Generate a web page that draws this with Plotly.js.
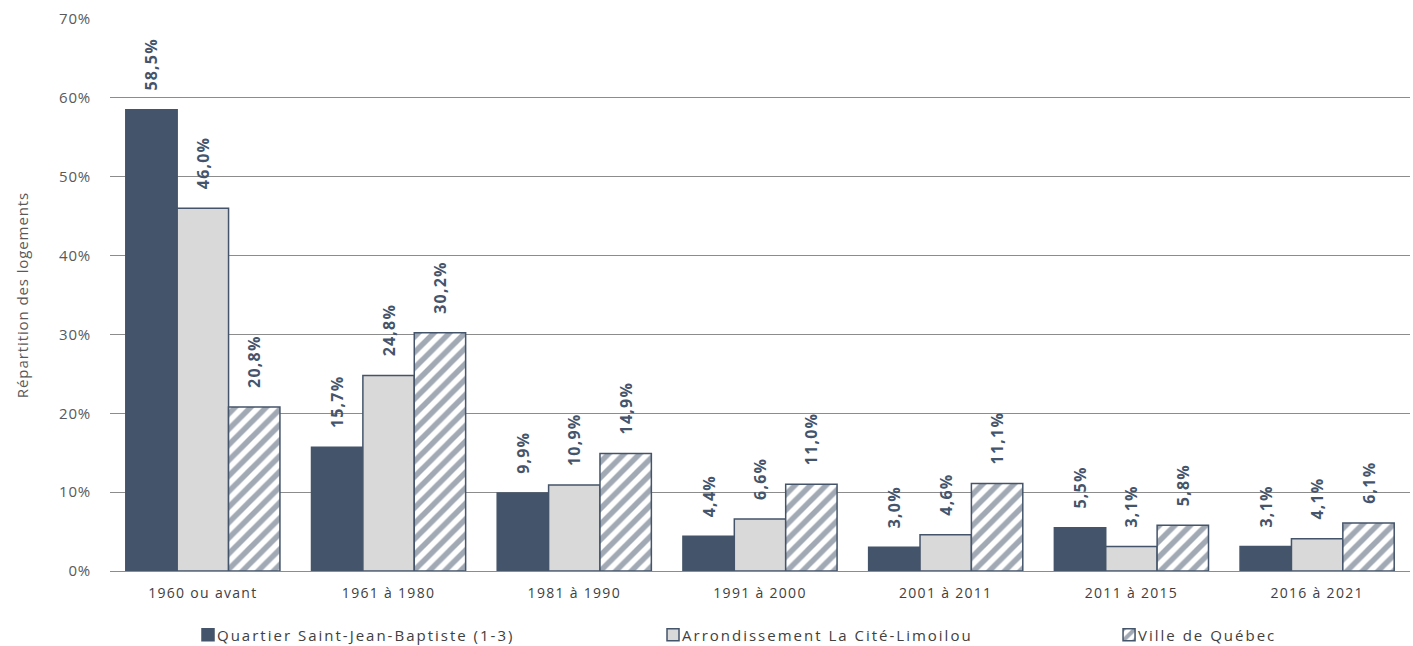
<!DOCTYPE html>
<html><head><meta charset="utf-8">
<script src="https://cdn.plot.ly/plotly-3.0.1.min.js"></script>
<style>
body{margin:0;background:#fff}#c{width:1413px;height:646px}
.xtick text{letter-spacing:1.3px}
text.bartext{letter-spacing:1.2px}
.ytitle{letter-spacing:0.9px}
.ytick text{letter-spacing:0.8px}
.infolayer g[class^="legend"] text{letter-spacing:2px; transform:translateX(-11px)}
.infolayer g[class^="legend"] g, .infolayer g[class^="legend"]{clip-path:none !important}
</style>
</head><body><div id="c"></div>
<script>
const categories = ["1960 ou avant","1961 à 1980","1981 à 1990","1991 à 2000","2001 à 2011","2011 à 2015","2016 à 2021"];
const quartier = [58.5,15.7,9.9,4.4,3.0,5.5,3.1];
const arrondissement = [46.0,24.8,10.9,6.6,4.6,3.1,4.1];
const ville = [20.8,30.2,14.9,11.0,11.1,5.8,6.1];
const seriesNames = ["Quartier Saint-Jean-Baptiste (1-3)","Arrondissement La Cité-Limoilou","Ville de Québec"];
const yTicks = [0,10,20,30,40,50,60,70];
const fmt = v => '\u00a0\u00a0\u00a0' + v.toFixed(1).replace('.', ',') + '%';
const dark = '#44546a';
const common = {type:'bar', x:categories, textposition:'outside', textangle:-90, cliponaxis:false, constraintext:'none',
  textfont:{family:'Open Sans, sans-serif', size:16, color:dark, weight:'bold'}, hoverinfo:'skip'};
const traces = [
  Object.assign({}, common, {name:seriesNames[0], legend:'legend', y:quartier, text:quartier.map(fmt),
    marker:{color:dark, line:{color:dark, width:1.5}}}),
  Object.assign({}, common, {name:seriesNames[1], legend:'legend2', y:arrondissement, text:arrondissement.map(fmt),
    marker:{color:'#d9d9d9', line:{color:dark, width:1.5}}}),
  Object.assign({}, common, {name:seriesNames[2], legend:'legend3', y:ville, text:ville.map(fmt),
    marker:{color:'#ffffff', pattern:{shape:'/', fgcolor:dark, bgcolor:'#ffffff', size:11, solidity:0.5, fillmode:'overlay'}, line:{color:dark, width:1.5}}})
];
const legBase = {orientation:'h', yref:'container', y:1-635/646, yanchor:'middle', xanchor:'left', font:{size:15, color:'#404040'}, itemwidth:30, bgcolor:'rgba(0,0,0,0)'};
const layout = {
  width:1413, height:646, margin:{l:110, r:3, t:19, b:75},
  paper_bgcolor:'#fff', plot_bgcolor:'#fff',
  barmode:'group', bargap:0.17, bargroupgap:0,
  font:{family:'Open Sans, sans-serif', color:'#595959', size:13},
  xaxis:{showgrid:false, showline:false, ticks:'', tickfont:{size:14, color:'#404040'}, ticklabelstandoff:12, fixedrange:true, automargin:false},
  yaxis:{range:[0,70], tickvals:yTicks, ticktext:yTicks.map(v=>v+'%'), showgrid:true, gridcolor:'#8c8c8c', gridwidth:1, automargin:false,
    zeroline:true, zerolinecolor:'#8c8c8c', showline:false, tickfont:{size:15, color:'#595959'}, ticklen:0, ticklabelstandoff:18,
    title:{text:'Répartition des logements', font:{size:15, color:'#595959'}, standoff:26}},
  showlegend:true,
  legend:Object.assign({}, legBase, {x:0.06}),
  legend2:Object.assign({}, legBase, {x:0.4177}),
  legend3:Object.assign({}, legBase, {x:0.7685}),
};
Plotly.newPlot('c', traces, layout, {displayModeBar:false, staticPlot:true});
</script></body></html>
